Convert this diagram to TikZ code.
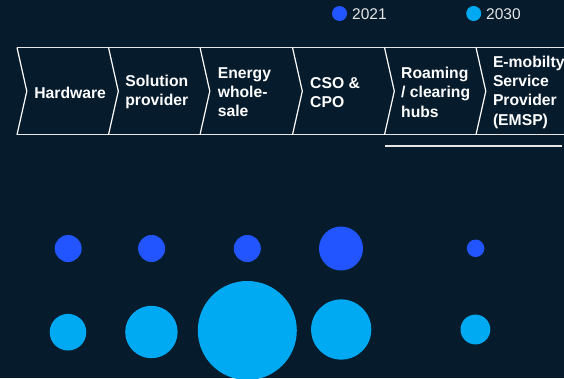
\documentclass[tikz,border=0pt]{standalone}
\usepackage{fontspec}
\setmainfont{Liberation Sans}
\definecolor{bg}{HTML}{061C2D}
\definecolor{blueA}{HTML}{2255FF}
\definecolor{cyanB}{HTML}{00AAF2}
\definecolor{lineW}{HTML}{E6E6E6}
\begin{document}
\begin{tikzpicture}[x=1pt,y=-1pt,
  lbl/.style={anchor=west,align=left,inner sep=0pt,text=white,
    font=\fontsize{15.7}{19.3}\selectfont\bfseries},
  legtxt/.style={anchor=west,inner sep=0pt,text=lineW,
    font=\fontsize{15.5}{18}\selectfont},
  sep/.style={draw=white,line width=1.2pt},
  rule/.style={draw=lineW,line width=1.3pt},
  dotA/.style={circle,fill=blueA,inner sep=0pt},
  dotB/.style={circle,fill=cyanB,inner sep=0pt}]
\useasboundingbox (0,0) rectangle (564,378);
\fill[bg] (0,0) rectangle (564,378);
\clip (0,0) rectangle (564,378);
% legend
\node[dotA,minimum size=15pt] (lgA) at (339.5,13.5) {};
\node[legtxt] (lgAt) at (352,14.5) {2021};
\node[dotB,minimum size=15pt] (lgB) at (473.7,13.5) {};
\node[legtxt] (lgBt) at (486,14.5) {2030};
% band rules
\draw[rule] (17,47.5) -- (566,47.5);
\draw[rule] (17,134.7) -- (566,134.7);
\draw[rule] (385,146) -- (562,146);
% chevron separators
\foreach \x in {17,108.5,200,292.5,384.5,476}
  \draw[sep] (\x,47.5) -- (\x+9.8,91.2) -- (\x,134.7);
% labels
\node[lbl] (hw) at (34.2,92.5) {Hardware};
\node[lbl] (sp) at (125.2,92.2) {Solution\\provider};
\node[lbl] (ew) at (217.6,92.2) {Energy\\whole-\\sale};
\node[lbl] (cso) at (310,92.5) {CSO \&\\CPO};
\node[lbl] (rh) at (401,92.2) {Roaming\\/ clearing\\hubs};
\node[lbl] (em) at (492.8,92) {E-mobilty\\Service\\Provider\\(EMSP)};
% bubbles 2021
\node[dotA,minimum size=27pt] (a1) at (68.2,248.5) {};
\node[dotA,minimum size=27pt] (a2) at (151.6,248.5) {};
\node[dotA,minimum size=27pt] (a3) at (247.3,248.5) {};
\node[dotA,minimum size=44pt] (a4) at (341,248.5) {};
\node[dotA,minimum size=17.5pt] (a5) at (475.6,248.3) {};
% bubbles 2030
\node[dotB,minimum size=36.6pt] (b1) at (68,332.2) {};
\node[dotB,minimum size=52.4pt] (b2) at (151.4,332) {};
\node[dotB,minimum size=99pt] (b3) at (247.3,330.5) {};
\node[dotB,minimum size=60.2pt] (b4) at (341.2,329.5) {};
\node[dotB,minimum size=29.8pt] (b5) at (475.4,329.5) {};
\end{tikzpicture}
\end{document}
